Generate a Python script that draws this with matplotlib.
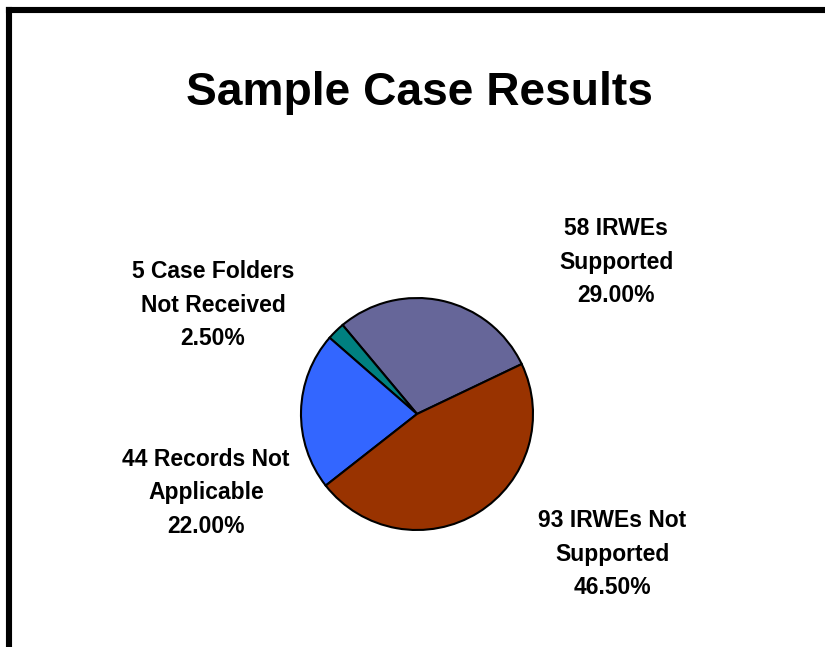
import matplotlib
matplotlib.use('Agg')
import matplotlib.pyplot as plt

plt.rcParams['font.family'] = ['Liberation Sans', 'DejaVu Sans']

# 数据
counts = [58, 5, 44, 93]
names = ['IRWEs\nSupported', 'Case Folders\nNot Received',
         'Records Not\nApplicable', 'IRWEs Not\nSupported']
colors = ['#666699', '#008080', '#3366FF', '#993300']
title = 'Sample Case Results'

W, H = 825, 647
fig = plt.figure(figsize=(W / 100, H / 100), dpi=100)
ax = fig.add_axes([0, 0, 1, 1])

total = sum(counts)
ax.pie(counts, colors=colors, startangle=25.5, counterclock=True,
       center=(417, H - 414), radius=116, frame=True,
       wedgeprops=dict(edgecolor='black', linewidth=1.5))
ax.set_xlim(0, W)
ax.set_ylim(0, H)
ax.set_aspect('auto')
ax.axis('off')

# 标签位置（像素）
label_pos = [(616, 262), (213, 305), (206, 493), (612, 554)]
for c, name, (px, py) in zip(counts, names, label_pos):
    txt = f'{c} {name}\n{c / total * 100:.2f}%'
    ax.text(px, H - py, txt, ha='center', va='center', fontsize=16.5,
            fontweight='bold', linespacing=1.6)

ax.text(419, H - 105, title, ha='center', va='baseline', fontsize=33.2,
        fontweight='bold')

# 边框（左、上）
ax.plot([9, 9], [0, H - 10], color='black', linewidth=4.4, solid_capstyle='projecting')
ax.plot([9, W + 5], [H - 10, H - 10], color='black', linewidth=4.4, solid_capstyle='projecting')

plt.savefig('out.png', dpi=100)
plt.close()
